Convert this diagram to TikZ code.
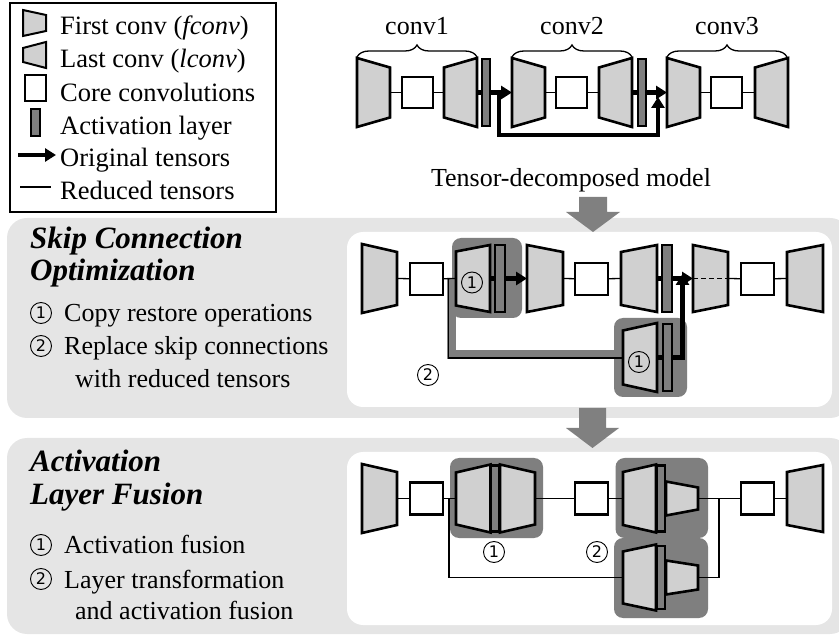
\documentclass[tikz,border=0pt]{standalone}
\usepackage{fontspec}
\setmainfont{Liberation Serif}
\newfontfamily\circfont{DejaVu Sans}
\usetikzlibrary{arrows.meta,decorations.pathreplacing}

\definecolor{convgray}{HTML}{D0D0D0}
\definecolor{actgray}{HTML}{7F7F7F}
\definecolor{hlgray}{HTML}{7F7F7F}
\definecolor{panelgray}{HTML}{E5E5E5}
\definecolor{arrowgray}{HTML}{808080}

% trapezoid convolution: name, left x, centre y, width, left half-height, right half-height
\newcommand{\convtrap}[6]{%
  \draw[convshape] (#2,#3-#5) -- (#2+#4,#3-#6) -- (#2+#4,#3+#6) -- (#2,#3+#5) -- cycle;
  \coordinate (#1-w) at (#2,#3);
  \coordinate (#1-e) at (#2+#4,#3);
}

\begin{document}
\begin{tikzpicture}[x=1pt,y=-1pt,
  font=\fontsize{26}{33}\selectfont,
  convshape/.style={fill=convgray, draw=black, line width=2.6pt, line join=miter},
  corebox/.style={draw=black, fill=white, line width=2.4pt, minimum width=31pt, minimum height=31pt, inner sep=0pt},
  actbar/.style={draw=black, fill=actgray, line width=2.2pt, minimum width=8pt, minimum height=67pt, inner sep=0pt},
  thinline/.style={line width=1.3pt},
  origline/.style={line width=4.5pt},
  origarrow/.style={line width=4.5pt, -{Triangle[length=11pt,width=13pt]}},
  hlbox/.style={fill=hlgray, rounded corners=9pt},
  panelbg/.style={fill=panelgray, rounded corners=20pt},
  panelin/.style={fill=white, rounded corners=16pt},
  txt/.style={anchor=base west, inner sep=0pt},
  legtxt/.style={anchor=base west, inner sep=0pt, font=\fontsize{26.5}{33}\selectfont},
  ctxt/.style={anchor=base, inner sep=0pt},
  paneltitle/.style={anchor=base west, inner sep=0pt, font=\fontsize{31}{33}\selectfont\bfseries\itshape},
  circnum/.style={circle, draw=black, line width=0.9pt, minimum size=21pt, inner sep=0pt, font=\fontsize{16}{16}\selectfont\circfont},
]
\useasboundingbox (0,0) rectangle (839,636);
\clip (0,0) rectangle (839,636);

% ---------- panels ----------
\fill[panelbg] (7,218) rectangle (850,418);
\fill[panelin] (347,232) rectangle (832,407);
\fill[panelbg] (7,438) rectangle (850,634);
\fill[panelin] (347,452) rectangle (832,625);

% ---------- big grey arrows ----------
\fill[arrowgray] (579,197) -- (607,197) -- (607,212) -- (620,212) -- (593,232) -- (566,212) -- (579,212) -- cycle;
\fill[arrowgray] (579,408) -- (606,408) -- (606,428) -- (619,428) -- (592.5,448) -- (566,428) -- (579,428) -- cycle;

% ---------- legend ----------
\node[draw=black, line width=2.5pt, minimum width=266pt, minimum height=209pt, inner sep=0pt] (legend) at (143,107.5) {};
\begin{scope}[convshape/.append style={line width=2pt}]
  \convtrap{lgf}{23}{23}{23}{13}{8}
  \convtrap{lgl}{23}{55}{23}{7}{13}
\end{scope}
\node[corebox, line width=2pt, minimum width=21pt, minimum height=26pt] (lgc) at (35,88.5) {};
\node[actbar, line width=2pt, minimum width=9pt, minimum height=27pt] (lga) at (35,122.5) {};
\coordinate (lgo0) at (18,155);
\coordinate (lgo1) at (56,155);
\draw[origarrow] (lgo0) -- (lgo1);
\coordinate (lgr0) at (20,187);
\coordinate (lgr1) at (51,187);
\draw[thinline] (lgr0) -- (lgr1);
\node[legtxt] (lt1) at (60,35) {First conv (\textit{fconv})};
\node[legtxt] (lt2) at (60,68) {Last conv (\textit{lconv})};
\node[legtxt] (lt3) at (60,102) {Core convolutions};
\node[legtxt] (lt4) at (60,135) {Activation layer};
\node[legtxt] (lt5) at (60,167) {Original tensors};
\node[legtxt] (lt6) at (60,200) {Reduced tensors};

% ---------- tensor-decomposed model ----------
\node[ctxt] (m1) at (417,35) {conv1};
\node[ctxt] (m2) at (572,35) {conv2};
\node[ctxt] (m3) at (727,35) {conv3};
\draw[decorate, decoration={brace, amplitude=12pt}, line width=1.3pt] (357,57) -- (477,57);
\draw[decorate, decoration={brace, amplitude=12pt}, line width=1.3pt] (512,57) -- (632,57);
\draw[decorate, decoration={brace, amplitude=12pt}, line width=1.3pt] (667,57) -- (787,57);

\node[corebox] (tc1) at (417.5,92.5) {};
\node[corebox] (tc2) at (571.5,92.5) {};
\node[corebox] (tc3) at (726.5,92.5) {};
\node[actbar] (ta1) at (486,92.5) {};
\node[actbar] (ta2) at (642,92.5) {};
\convtrap{tf1}{357}{92.5}{33}{34.5}{25}
\convtrap{tl1}{444}{92.5}{33}{25}{34.5}
\convtrap{tf2}{512}{92.5}{33}{34.5}{25}
\convtrap{tl2}{599}{92.5}{33}{25}{34.5}
\convtrap{tf3}{667}{92.5}{33}{34.5}{25}
\convtrap{tl3}{755}{92.5}{33}{25}{34.5}
\draw[thinline] (tf1-e) -- (tc1) -- (tl1-w);
\draw[thinline] (tf2-e) -- (tc2) -- (tl2-w);
\draw[thinline] (tf3-e) -- (tc3) -- (tl3-w);
\draw[origline] (tl1-e) -- (ta1.west);
\draw[origline] (tl2-e) -- (ta2.west);
\draw[origarrow] (ta1.east) -- (tf2-w);
\draw[origarrow] (ta2.east) -- (tf3-w);
\coordinate (ts0) at (499,92.5);
\coordinate (ts1) at (658,97);
\draw[origarrow, line join=miter] (ts0) -- (ts0 |- 0,135) -- (ts1 |- 0,135) -- (ts1);
\node[ctxt] (tdm) at (571,187) {Tensor-decomposed model};

% ---------- panel 1: skip connection optimization ----------
\node[paneltitle] (p1t1) at (30,249) {Skip Connection};
\node[paneltitle] (p1t2) at (30,281) {Optimization};
\node[circnum] (p1c1) at (41,313) {1};
\node[txt] (p1i1) at (64,322) {Copy restore operations};
\node[circnum] (p1c2) at (41,346) {2};
\node[txt] (p1i2) at (64,355) {Replace skip connections};
\node[txt] (p1i3) at (75,388) {with reduced tensors};

\fill[hlbox] (452,238) rectangle (522,318);
\fill[hlbox] (614,318) rectangle (687,397);
% reduced skip path highlighted
\draw[hlgray, line width=9pt, line join=miter] (451,278) -- (451,354.5) -- (624,354.5);
\node[corebox, minimum width=33pt, minimum height=32pt] (pc1) at (426.5,279) {};
\node[corebox, minimum width=33pt, minimum height=32pt] (pc2) at (591.5,279) {};
\node[corebox, minimum width=33pt, minimum height=32pt] (pc3) at (757.5,279) {};
\node[actbar, minimum width=10pt] (paA) at (500,278.5) {};
\node[actbar, minimum width=10pt] (pa2) at (667,278.5) {};
\node[actbar, minimum width=9pt] (paB) at (667.5,357.5) {};
\convtrap{pf1}{362}{278.5}{35}{34.5}{26.5}
\convtrap{plA}{456}{278.5}{34}{27}{33.5}
\convtrap{pf2}{527}{278.5}{36}{33.5}{26.5}
\convtrap{pl2}{621}{278.5}{36}{26.5}{33.5}
\convtrap{pf3}{693}{278.5}{35}{33.5}{26.5}
\convtrap{pl3}{787}{278.5}{36}{26.5}{33.5}
\convtrap{plB}{623}{357.5}{34}{27}{34.5}
\node[circnum] (pn1) at (472,282.5) {1};
\node[circnum] (pn2) at (639,362) {1};
\node[circnum] (pn3) at (428,375) {2};
\draw[thinline] (pf1-e) -- (pc1) -- (plA-w);
\draw[thinline] (pf2-e) -- (pc2) -- (pl2-w);
\draw[thinline] (pc3) -- (pl3-w);
\draw[thinline] (pf3-e) -- (pc3);
\draw[thinline, dashed, dash pattern=on 5pt off 3pt] (pf3-w) -- (pf3-e);
\coordinate (psk) at (448.5,278.5);
\draw[thinline] (psk) -- (448.5,358) -- (plB-w |- 0,358);
\draw[origline] (plA-e) -- (paA.west);
\draw[origline] (pl2-e) -- (pa2.west);
\draw[origline] (plB-e) -- (paB.west);
\draw[origarrow] (paA.east) -- (pf2-w);
\draw[origarrow] (pa2.east) -- (pf3-w);
\coordinate (pup) at (682.5,274);
\draw[origarrow, line join=miter] (paB.east |- 0,357.5) -- (pup |- 0,357.5) -- (pup);

% ---------- panel 2: activation layer fusion ----------
\node[paneltitle] (p2t1) at (30,472) {Activation};
\node[paneltitle] (p2t2) at (30,505) {Layer Fusion};
\node[circnum] (p2c1) at (41,545) {1};
\node[txt] (p2i1) at (64,554) {Activation fusion};
\node[circnum] (p2c2) at (41,579) {2};
\node[txt] (p2i2) at (64,588) {Layer transformation};
\node[txt] (p2i3) at (75,619) {and activation fusion};

\fill[hlbox] (450,458) rectangle (543,538);
\fill[hlbox] (615.5,458) rectangle (708,538);
\fill[hlbox] (614,538) rectangle (708,618);
\node[corebox, minimum width=33pt, minimum height=32pt] (qc1) at (426.5,498.5) {};
\node[corebox, minimum width=33pt, minimum height=32pt] (qc2) at (591.5,498.5) {};
\node[corebox, minimum width=33pt, minimum height=32pt] (qc3) at (757.5,498.5) {};
\convtrap{qf1}{362}{498.5}{35}{34.5}{26.5}
\convtrap{qlC}{456}{498.5}{34.5}{26}{34}
\convtrap{qfC}{500}{498.5}{35}{34}{26}
\node[actbar, minimum width=8pt, minimum height=66pt] (qaC) at (495,498.5) {};
\convtrap{qlD}{623}{498.5}{33}{26.5}{34}
\convtrap{qsD}{666}{498.5}{32}{17}{11}
\node[actbar, minimum width=8pt, minimum height=66pt] (qaD) at (661,498.5) {};
\convtrap{qlE}{623}{577.5}{33}{26}{33}
\convtrap{qsE}{666}{577.5}{32}{17}{12}
\node[actbar, minimum width=8pt, minimum height=63pt] (qaE) at (661,577.5) {};
\convtrap{ql3}{787}{498.5}{36}{26.5}{33.5}
\draw[thinline] (qf1-e) -- (qc1) -- (qlC-w);
\draw[thinline] (qfC-e) -- (qc2) -- (qlD-w);
\draw[thinline] (qsD-e) -- (qc3) -- (ql3-w);
\coordinate (qsk) at (449,498.5);
\draw[thinline] (qsk) -- (qsk |- qlE-w) -- (qlE-w);
\coordinate (qjn) at (719,498.5);
\draw[thinline] (qsE-e) -- (qjn |- qsE-e) -- (qjn);
\node[circnum] (qn1) at (494,552) {1};
\node[circnum] (qn2) at (597,552) {2};
\end{tikzpicture}
\end{document}
